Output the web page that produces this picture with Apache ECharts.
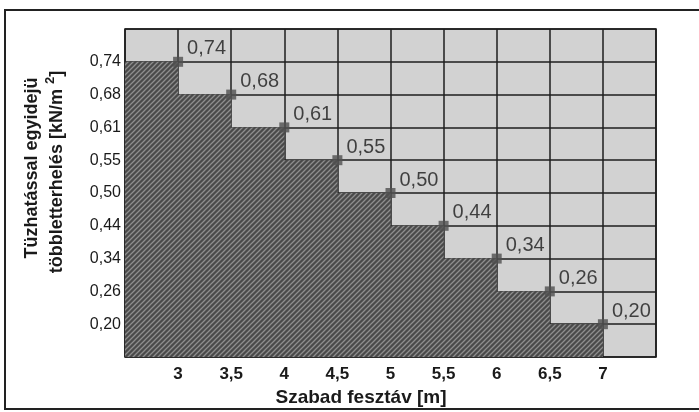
<!DOCTYPE html>
<html><head><meta charset="utf-8">
<script src="https://cdn.jsdelivr.net/npm/echarts@6/dist/echarts.min.js"></script>
<style>html,body{margin:0;padding:0;background:#fff}#c{width:699px;height:412px}</style>
</head><body><div id="c"></div>
<script>
// Data
const spans = [3, 3.5, 4, 4.5, 5, 5.5, 6, 6.5, 7];
const loads = [0.74, 0.68, 0.61, 0.55, 0.50, 0.44, 0.34, 0.26, 0.20];
const loadTicks = [0.20, 0.26, 0.34, 0.44, 0.50, 0.55, 0.61, 0.68, 0.74];
const xMin = 2.5, xMax = 7.5;

const fmtX = v => String(v).replace('.', ',');
const fmtY = v => v.toFixed(2).replace('.', ',');
const yPos = v => loadTicks.indexOf(v) + 1;

// hatch pattern
const pc = document.createElement('canvas');
pc.width = 5; pc.height = 5;
const g = pc.getContext('2d');
g.fillStyle = '#4a4a4a'; g.fillRect(0, 0, 5, 5);
g.strokeStyle = '#8e8e8e'; g.lineWidth = 1.3;
g.beginPath();
g.moveTo(-1, 6); g.lineTo(6, -1);
g.moveTo(-1, 1); g.lineTo(1, -1);
g.moveTo(4, 6); g.lineTo(6, 4);
g.stroke();

const stepData = [[xMin, yPos(loads[0])]].concat(spans.map((x, i) => [x, yPos(loads[i])]));
const pointData = spans.map((x, i) => [x, yPos(loads[i])]);
const FONT = 'Arial, Liberation Sans, sans-serif';

const chart = echarts.init(document.getElementById('c'));
chart.setOption({
  animation: false,
  backgroundColor: '#fff',
  grid: { left: 125, right: 43, top: 29, bottom: 55, show: true, backgroundColor: '#d2d2d2', borderColor: '#1e1e1e', borderWidth: 1.6 },
  xAxis: {
    type: 'value', min: xMin, max: xMax, interval: 0.5,
    axisLine: { show: false }, axisTick: { show: false },
    splitLine: { show: true, lineStyle: { color: '#1e1e1e', width: 1.5 } },
    axisLabel: {
      margin: 9, color: '#1a1a1a', fontSize: 17, fontWeight: 'bold', fontFamily: FONT,
      formatter: v => (v >= spans[0] && v <= spans[spans.length - 1]) ? fmtX(v) : ''
    }
  },
  yAxis: {
    type: 'value', min: 0, max: loadTicks.length + 1, interval: 1,
    axisLine: { show: false }, axisTick: { show: false },
    splitLine: { show: true, lineStyle: { color: '#1e1e1e', width: 1.5 } },
    axisLabel: {
      margin: 4, color: '#1a1a1a', fontSize: 16, fontFamily: FONT,
      formatter: v => (v >= 1 && v <= loadTicks.length) ? fmtY(loadTicks[v - 1]) : ''
    }
  },
  series: [
    {
      type: 'line', step: 'start', data: stepData, symbol: 'none',
      lineStyle: { width: 0 },
      areaStyle: { color: { image: pc, repeat: 'repeat' }, opacity: 1 },
      z: 2, silent: true
    },
    {
      type: 'scatter', data: pointData, symbol: 'rect', symbolSize: 10,
      itemStyle: { color: '#505050' },
      label: {
        show: true, position: 'right', distance: 4, offset: [0, -13],
        formatter: p => fmtY(loads[p.dataIndex]),
        color: '#1a1a1a', fontSize: 20, fontFamily: FONT
      },
      z: 3
    }
  ],
  graphic: [
    { type: 'rect', shape: { x: 5, y: 10, width: 710, height: 399 }, style: { fill: 'none', stroke: '#222', lineWidth: 2 }, silent: true },
    { type: 'text', x: 361, y: 398, style: { text: 'Szabad fesztáv [m]', fill: '#1a1a1a', font: 'bold 19px ' + FONT, textAlign: 'center', textVerticalAlign: 'middle' } },
    { type: 'text', x: 32, y: 168, rotation: Math.PI / 2, style: { text: 'Tüzhatással egyidejü', fill: '#1a1a1a', font: 'bold 18px ' + FONT, textAlign: 'center', textVerticalAlign: 'middle' } },
    { type: 'text', x: 55, y: 172, rotation: Math.PI / 2, style: {
        text: '{a|többletterhelés [kN/m }{s|2}{a|]}', textAlign: 'center', textVerticalAlign: 'middle',
        rich: {
          a: { fill: '#1a1a1a', fontSize: 18, fontWeight: 'bold', fontFamily: FONT, lineHeight: 22, verticalAlign: 'bottom' },
          s: { fill: '#1a1a1a', fontSize: 13, fontWeight: 'bold', fontFamily: FONT, lineHeight: 22, verticalAlign: 'top' }
        }
    } }
  ]
});
</script></body></html>
